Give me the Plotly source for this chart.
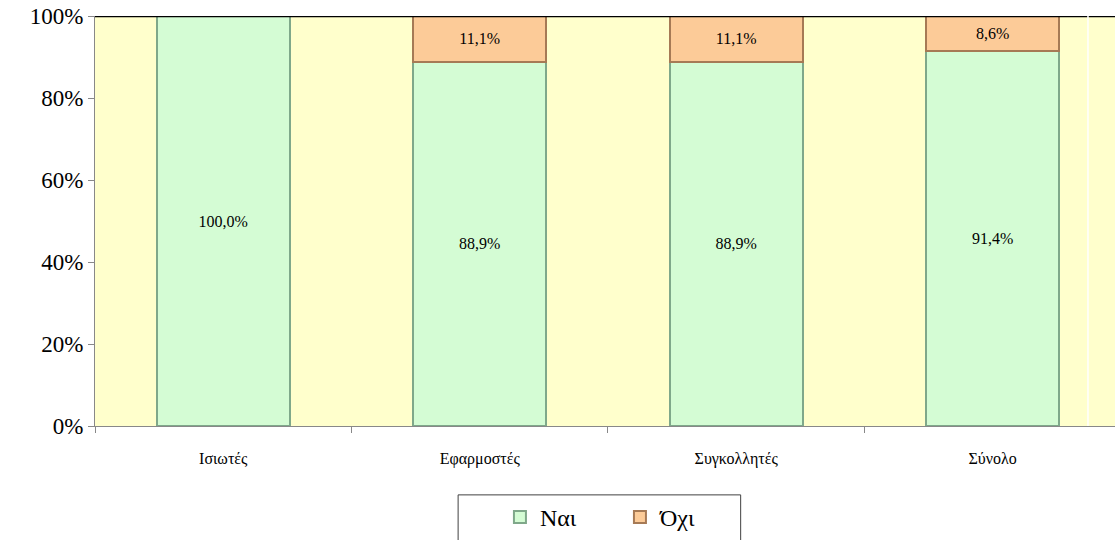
import plotly.graph_objects as go

categories = ['Ισιωτές', 'Εφαρμοστές', 'Συγκολλητές', 'Σύνολο']
nai = [100.0, 88.9, 88.9, 91.4]
oxi = [0.0, 11.1, 11.1, 8.6]

SERIF = 'Liberation Serif, DejaVu Serif, serif'

def labels(vals):
    return [f"{v:.1f}%".replace('.', ',') if v > 0 else '' for v in vals]

fig = go.Figure()

fig.add_trace(go.Bar(
    x=categories, y=[v / 100 for v in nai], name='Ναι',
    marker=dict(color='#D4FCD4', line=dict(color='#7FA88A', width=2)),
    text=labels(nai), textposition='inside', insidetextanchor='middle',
    textfont=dict(family=SERIF, size=16, color='black'),
    width=0.52
))
fig.add_trace(go.Bar(
    x=categories, y=[v / 100 for v in oxi], name='Όχι',
    marker=dict(color='#FCCB98', line=dict(color='#A67A55', width=2)),
    text=labels(oxi), textposition='inside', insidetextanchor='middle',
    textfont=dict(family=SERIF, size=16, color='black'),
    width=0.52
))

fig.update_layout(
    barmode='stack',
    width=1115, height=540,
    margin=dict(l=95, r=0, t=16, b=114),
    paper_bgcolor='white',
    plot_bgcolor='#FFFFCC',
    font=dict(family=SERIF, color='black'),
    uniformtext=dict(minsize=8, mode='show'),
    legend=dict(
        orientation='h', x=0.397, xanchor='left', y=-0.168, yanchor='top',
        font=dict(family=SERIF, size=24, color='black'),
        borderwidth=0, bgcolor='rgba(0,0,0,0)',
        itemwidth=30, traceorder='normal', entrywidth=75
    ),
    xaxis=dict(
        range=[-0.5, 3.477], showgrid=False,
        showline=True, linecolor='#888888', linewidth=1,
        ticks='outside', ticklen=6, tickcolor='#888888',
        tickson='boundaries', tickfont=dict(family=SERIF, size=16, color='black'),
        ticklabelstandoff=18
    ),
    yaxis=dict(
        range=[0, 1], dtick=0.2, tickformat='.0%', showgrid=False,
        showline=True, linecolor='#888888', linewidth=1,
        ticks='outside', ticklen=6, tickcolor='#888888',
        tickfont=dict(family=SERIF, size=23, color='black'), zeroline=False
    ),
    shapes=[
        dict(type='line', xref='paper', yref='y', x0=0, x1=1, y0=1, y1=1,
             line=dict(color='black', width=2.5)),
        dict(type='line', xref='paper', yref='paper', x0=0.9735, x1=0.9735, y0=0, y1=1,
             line=dict(color='white', width=1.5)),
        dict(type='rect', xref='paper', yref='paper', x0=0.356, x1=0.633, y0=-0.168, y1=-0.35,
             line=dict(color='#404040', width=1), layer='below'),
    ]
)

fig.write_html("out.html", config={'displayModeBar': False},
               post_script="document.body.style.margin='0';")
